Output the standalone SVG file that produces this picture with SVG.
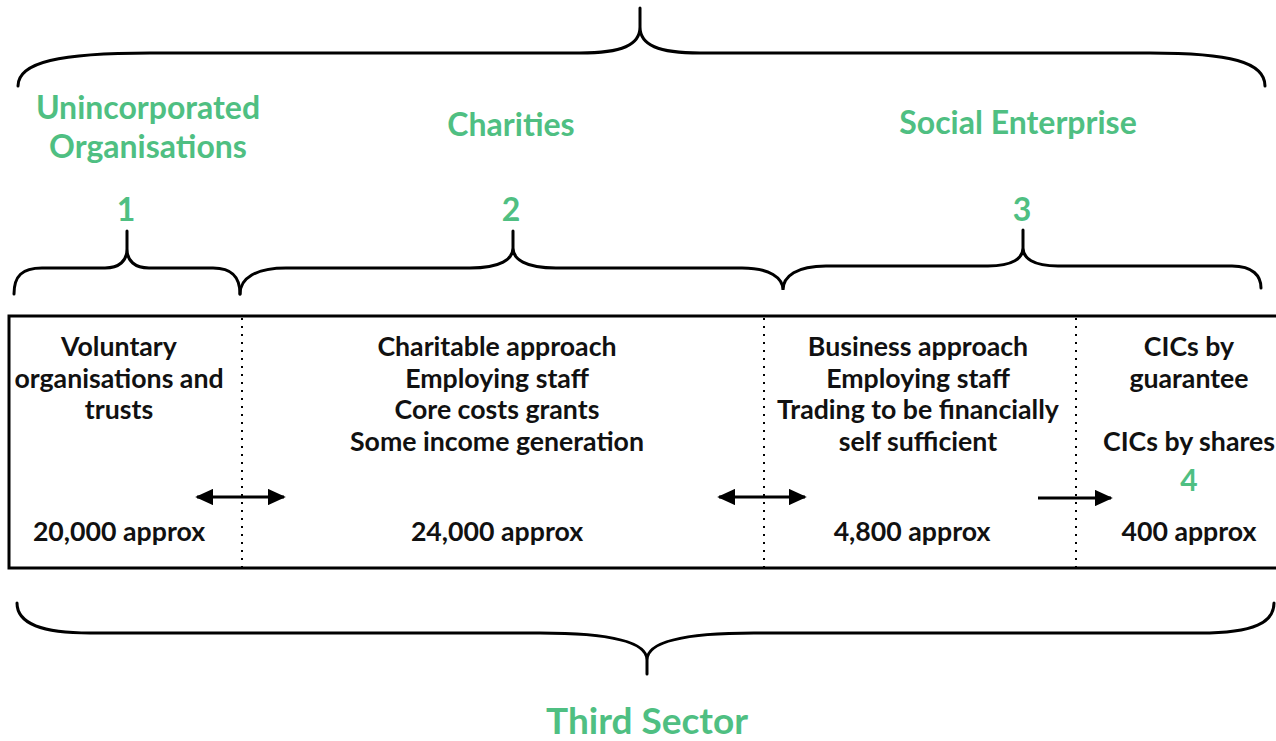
<svg xmlns="http://www.w3.org/2000/svg" width="1276" height="741" viewBox="0 0 1276 741">
<style>
.g{fill:#4fbf82;font-family:Lato,"Liberation Sans",sans-serif;font-weight:bold;text-anchor:middle}
.t{fill:#111;font-family:Lato,"Liberation Sans",sans-serif;font-weight:bold;font-size:26.7px;text-anchor:middle}
.br{fill:none;stroke:#000;stroke-width:3;stroke-linecap:round}
.dot{stroke:#000;stroke-width:2;stroke-dasharray:2 6}
.ar{stroke:#000;stroke-width:3}
</style>
<defs>
<marker id="ah" viewBox="0 0 10 10" refX="9" refY="5" markerWidth="6" markerHeight="5.5" markerUnits="strokeWidth" orient="auto-start-reverse" preserveAspectRatio="none">
<path d="M0,0 L10,5 L0,10 z" fill="#000"/>
</marker>
</defs>
<rect width="1276" height="741" fill="#fff"/>
<g id="braces">
<path class="br" d="M18,86 C18,62 60,53 150,53 L580,53 C622,53 640,45 640,27 L640,8 M640,27 C640,45 658,53 700,53 L1150,53 C1230,53 1265,62 1265,86"/>
<path class="br" d="M14,294 C14,276 22,268 42,268 L105,268 C119,268 127,261 127,249 L127,231 M127,249 C127,261 135,268 149,268 L213,268 C232,268 240,277 240,294"/>
<path class="br" d="M240,294 C240,278 256,268 286,268 L470,268 C501,268 513,259 513,248 L513,231 M513,248 C513,259 525,268 556,268 L742,268 C770,268 783,278 783,290 C783,276 797,266 826,266 L988,266 C1013,266 1023,258 1023,248 L1023,230 M1023,248 C1023,258 1033,266 1058,266 L1232,266 C1253,266 1261,276 1261,288"/>
<path class="br" d="M17,603 C17,624 42,633 90,633 L540,633 C622,633 647,645 647,660 L647,674 M647,660 C647,645 672,633 754,633 L1200,633 C1255,633 1274,622 1274,603"/>
</g>
<g id="labels">
<text class="g" x="148" y="119" font-size="32">Unincorporated</text>
<text class="g" x="148" y="158" font-size="32">Organisations</text>
<text class="g" x="511" y="136" font-size="32">Charities</text>
<text class="g" x="1018" y="134" font-size="32">Social Enterprise</text>
<text class="g" x="126" y="221" font-size="32">1</text>
<text class="g" x="511" y="221" font-size="32">2</text>
<text class="g" x="1022" y="221" font-size="32">3</text>
<text class="g" x="647" y="734" font-size="37">Third Sector</text>
</g>
<g id="box">
<path d="M1276,316 L9,316 L9,568 L1276,568" fill="none" stroke="#000" stroke-width="3"/>
</g>
<g id="dividers">
<line class="dot" x1="242" y1="318" x2="242" y2="572"/>
<line class="dot" x1="764" y1="318" x2="764" y2="572"/>
<line class="dot" x1="1076" y1="318" x2="1076" y2="572"/>
</g>
<g id="col1">
<text class="t" x="119" y="356">Voluntary</text>
<text class="t" x="119" y="388">organisations and</text>
<text class="t" x="119" y="419">trusts</text>
<text class="t" x="119" y="541">20,000 approx</text>
</g>
<g id="col2">
<text class="t" x="497" y="356">Charitable approach</text>
<text class="t" x="497" y="388">Employing staff</text>
<text class="t" x="497" y="419">Core costs grants</text>
<text class="t" x="497" y="451">Some income generation</text>
<text class="t" x="497" y="541">24,000 approx</text>
</g>
<g id="col3">
<text class="t" x="918" y="356">Business approach</text>
<text class="t" x="918" y="388">Employing staff</text>
<text class="t" x="918" y="419">Trading to be financially</text>
<text class="t" x="918" y="451">self sufficient</text>
<text class="t" x="912" y="541">4,800 approx</text>
</g>
<g id="col4">
<text class="t" x="1189" y="356">CICs by</text>
<text class="t" x="1189" y="388">guarantee</text>
<text class="t" x="1189" y="451">CICs by shares</text>
<text class="g" x="1189" y="491" font-size="30">4</text>
<text class="t" x="1189" y="541">400 approx</text>
</g>
<g id="connectors">
<line class="ar" x1="197" y1="497" x2="284" y2="497" marker-start="url(#ah)" marker-end="url(#ah)"/>
<line class="ar" x1="719" y1="497" x2="805" y2="497" marker-start="url(#ah)" marker-end="url(#ah)"/>
<line class="ar" x1="1038" y1="498" x2="1111" y2="498" marker-end="url(#ah)"/>
</g>
</svg>
